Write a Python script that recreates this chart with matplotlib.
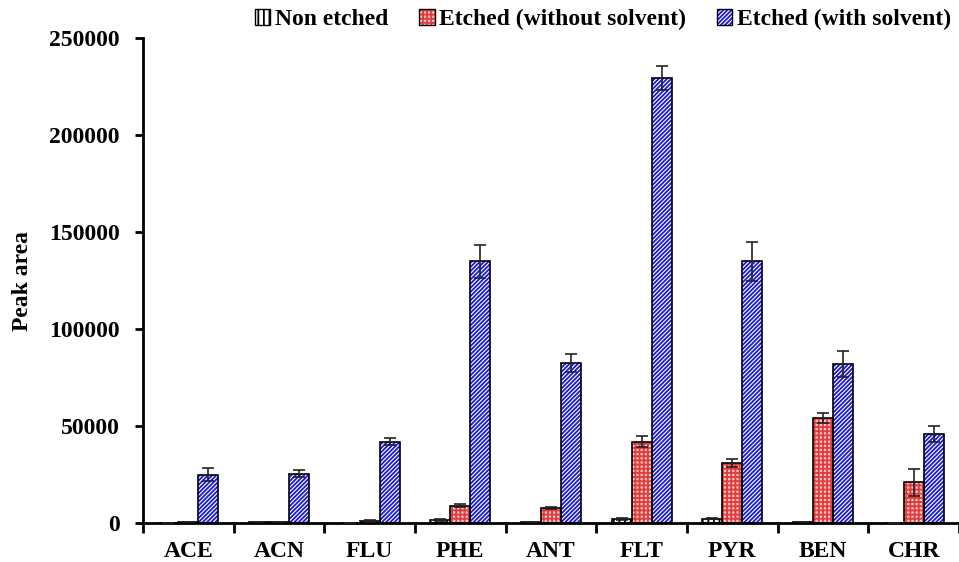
import matplotlib
matplotlib.use("Agg")
import matplotlib.pyplot as plt
import numpy as np
from matplotlib.patches import Patch

categories = ["ACE", "ACN", "FLU", "PHE", "ANT", "FLT", "PYR", "BEN", "CHR"]
series_names = ["Non etched", "Etched (without solvent)", "Etched (with solvent)"]
non_etched = [200, 300, 200, 1500, 300, 2000, 2200, 300, 0]
non_etched_err = [0, 0, 0, 500, 0, 400, 300, 0, 0]
etched_wo = [500, 300, 1000, 9000, 7500, 42000, 31000, 54000, 21000]
etched_wo_err = [0, 0, 300, 1000, 500, 3000, 2000, 2500, 7000]
etched_w = [25000, 25500, 42000, 135000, 82500, 229500, 135000, 82000, 46000]
etched_w_err = [3500, 1800, 2000, 8600, 4500, 6200, 10000, 6500, 4000]

plt.rcParams['font.family'] = ['Liberation Serif', 'DejaVu Serif']
plt.rcParams['font.weight'] = 'bold'
plt.rcParams['hatch.linewidth'] = 1.3

fig = plt.figure(figsize=(9.59, 5.62), dpi=100)
ax = fig.add_axes([0.149, 0.0694, 0.851, 0.8626])

x = np.arange(len(categories))
w = 0.22
styles = [
    dict(face="white", hatch="|||", hcolor="black"),
    dict(face="#f9c4c4", hatch="++++", hcolor="#e23b3b"),
    dict(face="white", hatch="////////", hcolor="#1a1ad8"),
]
vals = [non_etched, etched_wo, etched_w]
errs = [non_etched_err, etched_wo_err, etched_w_err]
handles = []
for i, (v, e, st) in enumerate(zip(vals, errs, styles)):
    pos = x + (i - 1) * w
    ax.bar(pos, v, width=w, color=st["face"], hatch=st["hatch"],
           edgecolor=st["hcolor"], linewidth=0, zorder=2)
    ax.bar(pos, v, width=w, fill=False, edgecolor="black", linewidth=1.2, zorder=3)
    ax.errorbar(pos, v, yerr=e, fmt="none", ecolor="#222222", elinewidth=1.2,
                capsize=4, capthick=1.2, zorder=4)
    handles.append((Patch(facecolor=st["face"], hatch=st["hatch"],
                          edgecolor=st["hcolor"], linewidth=0),
                    Patch(fill=False, edgecolor="black", linewidth=1.0)))

ax.set_xlim(-0.5, len(categories) - 0.5)
ax.set_ylim(0, 250000)
ax.set_yticks(np.arange(0, 250001, 50000))
ax.set_xticks(np.arange(-0.5, len(categories), 1.0))
ax.set_xticklabels([])
ax.set_xticks(x, minor=True)
ax.set_xticklabels(categories, minor=True, fontsize=17, fontweight='bold')
ax.tick_params(axis='x', which='minor', length=0, pad=13)
ax.tick_params(axis='x', which='major', length=7, width=2, direction='out')
ax.tick_params(axis='y', length=5.5, width=2, direction='out', labelsize=17, pad=11)
for lab in ax.get_yticklabels():
    lab.set_fontweight('bold')
ax.spines['top'].set_visible(False)
ax.spines['right'].set_visible(False)
ax.spines['left'].set_linewidth(2)
ax.spines['bottom'].set_linewidth(2)
ax.set_ylabel("Peak area", fontsize=17, fontweight='bold', labelpad=12)

leg = fig.legend(handles, series_names, loc='upper right', bbox_to_anchor=(1.014, 1.022),
                 ncol=3, frameon=False, handlelength=0.65, handleheight=0.65,
                 handletextpad=0.2, columnspacing=1.3, prop={'weight': 'bold', 'size': 17})

fig.savefig("out.png", dpi=100)
